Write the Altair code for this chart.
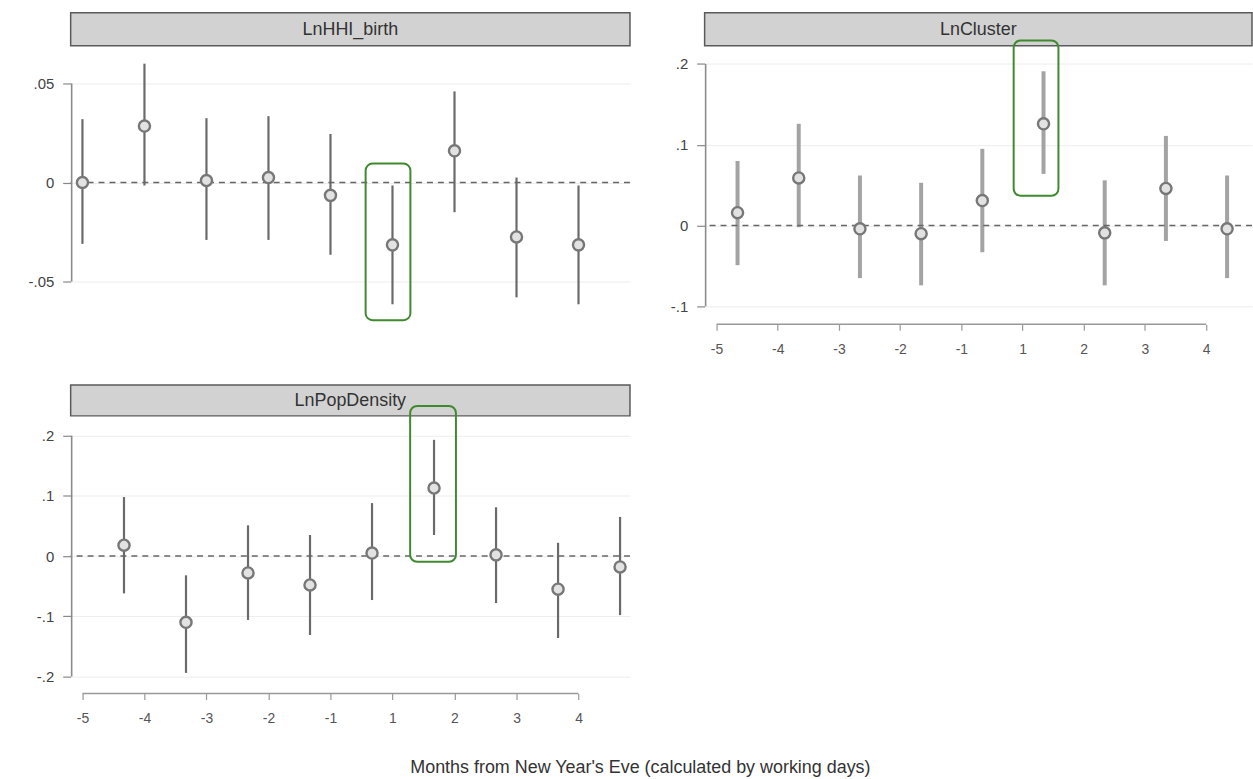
import altair as alt
import pandas as pd

months = ["-5", "-4", "-3", "-2", "-1", "1", "2", "3", "4"]

# LnHHI_birth
hhi_est = [0.000, 0.0285, 0.001, 0.0025, -0.0065, -0.0315, 0.016, -0.0275, -0.0315]
hhi_lo = [-0.031, -0.0015, -0.029, -0.029, -0.0365, -0.0615, -0.015, -0.058, -0.0615]
hhi_hi = [0.032, 0.060, 0.0325, 0.0335, 0.0245, -0.0015, 0.046, 0.0025, -0.0015]
hhi_ticks = [0.05, 0, -0.05]
hhi_labels = [".05", "0", "-.05"]

# LnCluster
cl_est = [0.016, 0.059, -0.004, -0.010, 0.031, 0.126, -0.009, 0.046, -0.004]
cl_lo = [-0.049, -0.002, -0.065, -0.074, -0.033, 0.064, -0.074, -0.019, -0.065]
cl_hi = [0.080, 0.126, 0.062, 0.053, 0.095, 0.191, 0.056, 0.111, 0.062]
cl_ticks = [0.2, 0.1, 0, -0.1]
cl_labels = [".2", ".1", "0", "-.1"]

# LnPopDensity
pd_est = [0.018, -0.110, -0.028, -0.048, 0.005, 0.113, 0.002, -0.055, -0.018]
pd_lo = [-0.062, -0.194, -0.106, -0.131, -0.073, 0.035, -0.078, -0.136, -0.098]
pd_hi = [0.098, -0.032, 0.051, 0.035, 0.088, 0.193, 0.081, 0.022, 0.065]
pd_ticks = [0.2, 0.1, 0, -0.1, -0.2]
pd_labels = [".2", ".1", "0", "-.1", "-.2"]

highlight = "1"
x_title = "Months from New Year's Eve (calculated by working days)"

FONT = "Liberation Sans"


def js_list(vals):
    return "[" + ",".join(repr(v) if isinstance(v, str) else str(v) for v in vals) + "]"


def panel(name, est, lo, hi, ticks, tick_labels, ydom, xdom, shift, W, H,
          strip_h, show_x, ci_color, ci_width, box_dx, box_dy):
    df = pd.DataFrame({"idx": list(range(len(months))), "month": months,
                       "est": est, "lo": lo, "hi": hi})
    xs = alt.Scale(domain=xdom, nice=False, zero=False)
    ys = alt.Scale(domain=ydom, nice=False, zero=False)
    ylabel_expr = f"{js_list(tick_labels)}[indexof({js_list(ticks)}, datum.value)]"
    yaxis = alt.Axis(values=ticks, labelExpr=ylabel_expr, title=None, grid=True,
                     gridColor="#ededed", gridWidth=1, domain=False, ticks=True,
                     tickSize=8, tickColor="#888", tickWidth=1.2, labelPadding=9,
                     labelFontSize=15, labelColor="#444", labelFont=FONT)
    if show_x:
        xaxis = alt.Axis(values=list(range(len(months))),
                         labelExpr=f"{js_list(months)}[datum.value]",
                         title=None, grid=False, domain=False, offset=7,
                         ticks=True, tickSize=6, tickColor="#999", tickWidth=1.2,
                         labelPadding=12, labelFontSize=14, labelColor="#555",
                         labelFont=FONT)
    else:
        xaxis = None

    base = alt.Chart(df).transform_calculate(pos=f"datum.idx + {shift}")

    ci = base.mark_rule(color=ci_color, strokeWidth=ci_width).encode(
        x=alt.X("pos:Q", scale=xs, axis=xaxis),
        y=alt.Y("lo:Q", scale=ys, axis=yaxis),
        y2="hi:Q",
    )
    zero = alt.Chart(pd.DataFrame({"z": [0]})).mark_rule(
        color="#666", strokeDash=[6, 5], strokeWidth=1.5
    ).encode(y=alt.Y("z:Q", scale=ys, axis=yaxis))
    pts = base.mark_point(shape="circle", filled=False, size=125,
                          stroke="#777", strokeWidth=2.4, fill="#e2e2e2",
                          fillOpacity=1).encode(
        x=alt.X("pos:Q", scale=xs, axis=xaxis),
        y=alt.Y("est:Q", scale=ys, axis=yaxis),
    )
    tk = pd.DataFrame({"t0": [ticks[0]], "t1": [ticks[-1]]})
    yline = alt.Chart(tk).mark_rule(color="#8a8a8a", strokeWidth=1.6).encode(
        x=alt.value(1),
        y=alt.Y("t0:Q", scale=ys, axis=yaxis),
        y2="t1:Q",
    )
    layers = [ci, zero, pts, yline]
    if show_x:
        xr = pd.DataFrame({"a": [0], "b": [len(months) - 1]})
        xline = alt.Chart(xr).mark_rule(color="#999", strokeWidth=1.4).encode(
            x=alt.X("a:Q", scale=xs, axis=xaxis),
            x2="b:Q",
            y=alt.value(H + 7),
        )
        layers.append(xline)
    sd = pd.DataFrame({"label": [name]})
    strip = alt.Chart(sd).mark_rect(fill="#d2d2d2", stroke="#5a5a5a",
                                    strokeWidth=1.5).encode(
        x=alt.value(0), x2=alt.value(W), y=alt.value(0), y2=alt.value(strip_h)
    )
    stext = alt.Chart(sd).mark_text(fontSize=18, font=FONT, color="#333",
                                    baseline="middle", align="center").encode(
        x=alt.value(W / 2), y=alt.value(strip_h / 2 + 1), text="label:N"
    )
    hl = df[df["month"] == highlight]
    box = alt.Chart(hl).transform_calculate(pos=f"datum.idx + {shift}").mark_rect(
        fillOpacity=0, stroke="#3f8a2e", strokeWidth=2, cornerRadius=7,
        xOffset=box_dx[0], x2Offset=box_dx[1], yOffset=-box_dy[0], y2Offset=box_dy[1]
    ).encode(
        x=alt.X("pos:Q", scale=xs, axis=xaxis),
        x2="pos:Q",
        y=alt.Y("hi:Q", scale=ys, axis=yaxis),
        y2="lo:Q",
    )
    layers += [strip, stext, box]
    return alt.layer(*layers).properties(width=W, height=H)


p1 = panel("LnHHI_birth", hhi_est, hhi_lo, hhi_hi, hhi_ticks, hhi_labels,
           [-0.0681, 0.0857], [-0.19, 8.83], 0.0, 562, 306, 33, False,
           "#6a6a6a", 2.2, (-27, 18), (22, 16))
p2 = panel("LnCluster", cl_est, cl_lo, cl_hi, cl_ticks, cl_labels,
           [-0.1136, 0.2634], [-0.195, 8.75], 0.343, 550, 306, 33, True,
           "#a3a3a3", 4, (-30, 15), (31, 22))
p3 = panel("LnPopDensity", pd_est, pd_lo, pd_hi, pd_ticks, pd_labels,
           [-0.2167, 0.284], [-0.19, 8.83], 0.67, 562, 303, 31, True,
           "#6a6a6a", 2.2, (-24, 22), (34, 27))

row1 = alt.hconcat(p1, p2, spacing=39)
chart = alt.vconcat(row1, p3, spacing=28).properties(
    title=alt.TitleParams(x_title, orient="bottom", anchor="middle",
                          fontSize=18, fontWeight="normal", font=FONT,
                          color="#333", offset=34),
    padding={"left": 28, "top": 10, "right": 0, "bottom": 0},
).configure(background="white").configure_view(stroke="transparent", strokeWidth=0)

chart.save("out.html", embed_options={"renderer": "svg", "actions": False})
